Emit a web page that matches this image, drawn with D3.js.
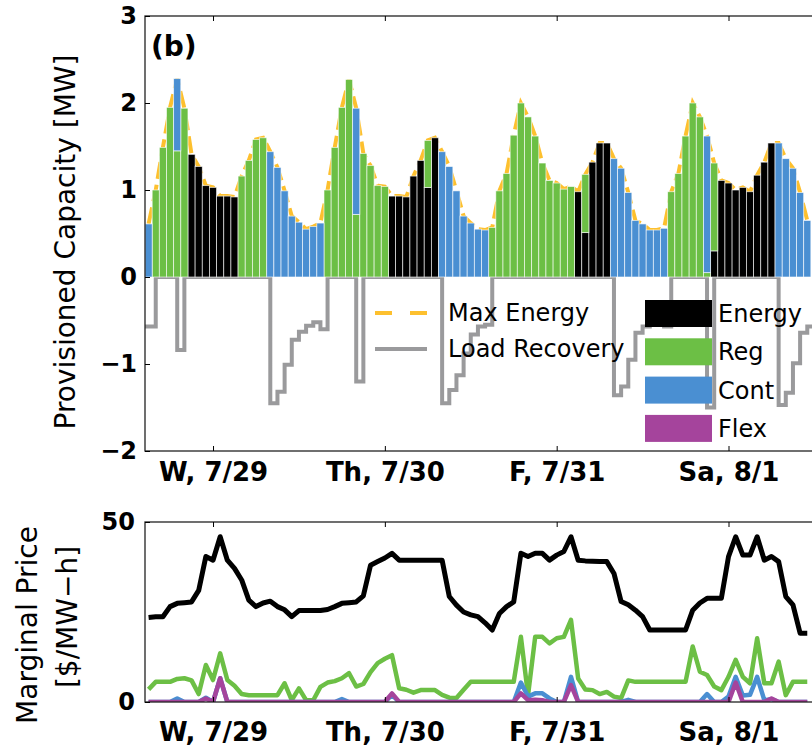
<!DOCTYPE html>
<html>
<head>
<meta charset="utf-8">
<script src="https://cdn.jsdelivr.net/npm/d3@7"></script>
<style>
  body { margin: 0; background: #fff; }
  text { font-family: "DejaVu Sans", sans-serif; fill: #000; }
</style>
</head>
<body>
<div id="chart"></div>
<script>
// hourly provisioned capacity [MW], hour 0 = first bar
const energy = [
  0,0,0,0,0,0,1.41,1.27,1.05,1.03,0.93,0.93,
  0.92,0,0,0,0,0,0,0,0,0,0,0,
  0,0,0,0,0,0,0,0,0,0,0.93,0.93,
  0.92,1.16,1.34,1.03,1.60,0,0,0,0,0,0,0,
  0,0,0,0,0,0,0,0,0,0,0,0,
  0.98,0.51,1.32,1.54,1.54,0,0,0,0,0,0,0,
  0,0,0,0,0,0,0,0.30,1.11,1.08,1.00,1.03,
  0.98,1.17,1.32,1.54,0,0,0,0,0
];
const reg = [
  0,1.00,1.49,1.95,1.45,1.94,0,0,0,0,0,0,
  0,1.16,1.34,1.58,1.60,0,0,0,0,0,0,0,
  0,1.00,1.49,1.95,2.27,0.72,1.42,1.28,1.05,1.04,0,0,
  0,0,0,0.54,0,0,0,0,0,0,0,0,
  0.57,0.99,1.19,1.63,2.00,1.84,1.62,1.31,1.11,1.08,1.01,1.04,
  0,0.67,0,0,0,0,0,0,0,0,0,0,
  0,0.98,1.19,1.62,2.00,1.84,0.05,1.01,0,0,0,0,
  0,0,0,0,0,0,0,0,0
];
const cont = [
  0.61,0,0,0,0.83,0,0,0,0,0,0,0,
  0,0,0,0,0,1.44,1.26,0.99,0.70,0.63,0.55,0.58,
  0.62,0,0,0,0,1.22,0,0,0,0,0,0,
  0,0,0,0,0,1.44,1.27,0.99,0.70,0.62,0.55,0.54,
  0,0,0,0,0,0,0,0,0,0,0,0,
  0,0,0,0,0,1.36,1.25,0.97,0.65,0.61,0.54,0.54,
  0.56,0,0,0,0,0,1.57,0,0,0,0,0,
  0,0,0,0,1.54,1.36,1.25,0.97,0.65
];
const flex = [
  0,0,0,0,0,0,0,0,0,0,0,0,
  0,0,0,0,0,0,0,0,0,0,0,0,
  0,0,0,0,0,0,0,0,0,0,0,0,
  0,0,0,0,0,0,0,0,0,0,0,0,
  0,0,0,0,0,0,0,0,0,0,0,0,
  0,0,0,0,0,0,0,0,0,0,0,0,
  0,0,0,0,0,0,0,0,0,0,0,0,
  0,0,0,0,0,0,0,0,0
];
const maxEnergy = [
  0.61,1.00,1.49,1.95,2.28,1.94,1.41,1.27,1.05,1.03,0.93,0.93,
  0.92,1.16,1.34,1.58,1.60,1.44,1.26,0.99,0.70,0.63,0.55,0.58,
  0.62,1.00,1.49,1.95,2.27,1.94,1.42,1.28,1.05,1.04,0.93,0.93,
  0.92,1.16,1.34,1.57,1.60,1.44,1.27,0.99,0.70,0.62,0.55,0.54,
  0.57,0.99,1.19,1.63,2.00,1.84,1.62,1.31,1.11,1.08,1.01,1.04,
  0.98,1.18,1.32,1.54,1.54,1.36,1.25,0.97,0.65,0.61,0.54,0.54,
  0.56,0.98,1.19,1.62,2.00,1.84,1.62,1.31,1.11,1.08,1.00,1.03,
  0.98,1.17,1.32,1.54,1.54,1.36,1.25,0.97,0.65
];
// load recovery, starts one hour before the first bar (hour -1)
const loadRecStart = -1;
const loadRecovery = [
  -0.57,-0.57,0,0,0,-0.84,0,0,0,0,0,0,
  0,0,0,0,0,0,-1.45,-1.32,-1.01,-0.72,-0.63,-0.56,
  -0.52,-0.60,0,0,0,0,-1.20,0,0,0,0,0,
  0,0,0,0,0,0,-1.45,-1.30,-1.13,-0.88,-0.66,-0.57,
  -0.55,0,0,0,0,0,0,0,0,0,0,0,
  0,0,0,0,0,0,-1.36,-1.26,-0.95,-0.64,-0.57,-0.55,
  -0.55,-0.57,0,0,0,0,0,-1.50,0,0,0,0,
  0,0,0,0,0,-1.47,-1.33,-0.99,-0.64,-0.57,-0.55
];

// marginal prices [$/MW-h]
const energyPrice = [
  23.5,23.7,23.7,26.5,27.4,27.6,27.8,31.0,40.4,39.4,45.9,39.4,
  37.1,33.9,28.3,26.5,27.5,28.0,26.5,25.6,23.7,25.4,25.4,25.4,
  25.4,25.7,26.5,27.4,27.6,27.8,29.5,38.0,39.0,40.0,41.3,39.4,
  39.4,39.4,39.4,39.4,39.4,39.4,29.3,26.9,25.0,24.2,23.7,22.0,
  20.0,24.6,26.5,27.8,41.3,40.4,41.3,41.3,39.4,40.8,41.8,45.9,
  39.4,39.2,39.1,39.0,39.0,35.7,27.9,27.0,25.5,23.7,20.0,20.0,
  20.0,20.0,20.0,20.0,25.5,27.5,28.8,28.8,28.8,40.4,45.9,40.8,
  40.8,45.9,39.4,40.4,39.0,29.3,27.0,19.1,19.1
];
const regPrice = [
  3.5,5.6,5.6,5.6,6.4,6.6,6.0,2.2,10.3,6.1,13.5,6.1,
  4.5,2.2,1.9,1.9,1.9,1.9,1.9,5.2,0.5,3.8,0.5,0.5,
  4.2,5.4,5.8,6.6,8.0,4.3,5.0,8.3,10.8,12.0,13.0,3.8,
  3.4,2.6,3.3,3.3,3.3,2.0,1.2,1.1,3.4,5.6,5.6,5.6,
  5.6,5.6,5.6,5.6,18.1,1.9,18.1,18.1,16.3,17.7,18.1,22.8,
  6.5,3.5,3.3,2.2,2.8,1.5,1.1,6.0,5.6,5.6,5.6,5.6,
  5.6,5.6,5.6,5.6,15.4,8.4,7.5,4.3,3.3,7.0,11.7,7.0,
  5.2,17.7,5.2,5.2,11.2,1.9,5.6,5.6,5.6
];
const contPrice = [
  0,0,0,0,1.0,0,0,0,1.2,0,6.6,0,
  0,0,0,0,0,0,0,0,0,0,0,0,
  0,0,0,0.8,0,0,0,0,0,0,2.0,0,
  0,0,0,0,0,0,0,0,0,0,0,0,
  0,0,0,0,5.4,1.5,2.4,2.4,1.0,0,0,7.0,
  0,0,0,0,0,0,0,0.6,0,0,0,0,
  0,0,0,0,0,0,2.2,0,0,1.5,7.0,1.8,
  2.0,7.0,0.5,0.8,0,0,0,0,0
];
const flexPrice = [
  0,0,0,0,0,0,0,0,1.0,0,6.6,0,
  0,0,0,0,0,0,0,0,0,0,0,0,
  0,0,0,0,0,0,0,0,0,0,2.4,0,
  0,0,0,0,0,0,0,0,0,0,0,0,
  0,0,0,0,2.4,0.5,0.6,0.5,0,0,0,4.7,
  0,0,0,0,0,0,0,0,0,0,0,0,
  0,0,0,0,0,0,0,0,0,0,5.4,0,
  0,0,0,1.0,0,0,0,0,0
];

const dayTicks = [9, 33, 57, 81];
const dayLabels = ["W, 7/29", "Th, 7/30", "F, 7/31", "Sa, 8/1"];
const capTicks = [-2, -1, 0, 1, 2, 3];
const priceTicks = [0, 50];

const colors = {
  energy: "#000000",
  reg: "#6cbf45",
  cont: "#4a8fd2",
  flex: "#a5449c",
  maxE: "#fdc02e",
  load: "#9a9a9c"
};

const svg = d3.select("#chart").append("svg")
  .attr("width", 812)
  .attr("height", 751);

const left = 145, right = 813;
const top1 = 16, bot1 = 451;
const top2 = 522, bot2 = 702;

const x = d3.scaleLinear().domain([-0.5, 92.8]).range([left, right]);
const y1 = d3.scaleLinear().domain([-2, 3]).range([bot1, top1]);
const y2 = d3.scaleLinear().domain([0, 50]).range([bot2, top2]);
const intFmt = d3.format("d");

const defs = svg.append("defs");
defs.append("clipPath").attr("id", "clip1").append("rect")
  .attr("x", left).attr("y", top1).attr("width", right - left).attr("height", bot1 - top1);
defs.append("clipPath").attr("id", "clip2").append("rect")
  .attr("x", left).attr("y", top2 - 4).attr("width", right - left).attr("height", bot2 - top2 + 4);

// ---------- top panel ----------
const g1 = svg.append("g").attr("clip-path", "url(#clip1)");

const lrData = loadRecovery.map((v, i) => ({ h: i + loadRecStart, v: v }));
g1.append("path")
  .datum(lrData)
  .attr("fill", "none")
  .attr("stroke", colors.load)
  .attr("stroke-width", 4)
  .attr("d", d3.line().curve(d3.curveStepAfter).x(d => x(d.h)).y(d => y1(d.v)));

g1.append("path")
  .datum(maxEnergy)
  .attr("fill", "none")
  .attr("stroke", colors.maxE)
  .attr("stroke-width", 4)
  .attr("stroke-dasharray", "17,6")
  .attr("d", d3.line().x((d, i) => x(i)).y(d => y1(d)));

const keys = ["energy", "reg", "cont", "flex"];
const table = energy.map((e, i) => ({ hour: i, energy: e, reg: reg[i], cont: cont[i], flex: flex[i] }));
const series = d3.stack().keys(keys)(table);
const bw = x(1) - x(0);

g1.selectAll("g.layer")
  .data(series)
  .join("g")
  .attr("class", "layer")
  .attr("fill", d => colors[d.key])
  .selectAll("rect")
  .data(d => d.filter(p => p[1] - p[0] > 0))
  .join("rect")
  .attr("x", d => x(d.data.hour - 0.5))
  .attr("width", bw)
  .attr("y", d => y1(d[1]))
  .attr("height", d => y1(d[0]) - y1(d[1]))
  .attr("stroke", "rgba(255,255,255,0.75)")
  .attr("stroke-width", 0.8);

// frame + ticks
svg.append("rect")
  .attr("x", left).attr("y", top1).attr("width", right - left).attr("height", bot1 - top1)
  .attr("fill", "none").attr("stroke", "#222").attr("stroke-width", 1.3);

const ax1 = svg.append("g").attr("transform", `translate(${left},0)`)
  .call(d3.axisLeft(y1).tickValues(capTicks).tickFormat(intFmt).tickSize(-5).tickPadding(8));
ax1.select(".domain").remove();
ax1.selectAll("text").style("font-size", "24px").style("font-weight", "bold");

svg.append("g").attr("transform", `translate(0,${top1})`)
  .call(d3.axisTop(x).tickValues(dayTicks).tickSize(-5).tickFormat(""))
  .select(".domain").remove();

const bx1 = svg.append("g").attr("transform", `translate(0,${bot1})`)
  .call(d3.axisBottom(x).tickValues(dayTicks).tickSize(-5).tickPadding(12)
    .tickFormat((d, i) => dayLabels[i]));
bx1.select(".domain").remove();
bx1.selectAll("text").style("font-size", "26px").style("font-weight", "bold");

svg.append("text")
  .attr("transform", "translate(75,242) rotate(-90)")
  .attr("text-anchor", "middle")
  .style("font-size", "28px")
  .text("Provisioned Capacity [MW]");

svg.append("text")
  .attr("x", 151).attr("y", 56)
  .style("font-size", "28px").style("font-weight", "bold")
  .text("(b)");

// legends
const legL = svg.append("g");
legL.append("line").attr("x1", 375).attr("x2", 427).attr("y1", 313).attr("y2", 313)
  .attr("stroke", colors.maxE).attr("stroke-width", 4).attr("stroke-dasharray", "17,18");
legL.append("line").attr("x1", 375).attr("x2", 427).attr("y1", 349).attr("y2", 349)
  .attr("stroke", colors.load).attr("stroke-width", 4);
legL.append("text").attr("x", 448).attr("y", 313).attr("dy", "0.35em")
  .style("font-size", "24px").text("Max Energy");
legL.append("text").attr("x", 448).attr("y", 349).attr("dy", "0.35em")
  .style("font-size", "24px").text("Load Recovery");

const legNames = ["Energy", "Reg", "Cont", "Flex"];
const legR = svg.append("g").selectAll("g").data(keys).join("g")
  .attr("transform", (d, i) => `translate(645,${300 + i * 38.3})`);
legR.append("rect").attr("width", 67).attr("height", 27).attr("fill", d => colors[d]);
legR.append("text").attr("x", 73).attr("y", 13.5).attr("dy", "0.35em")
  .style("font-size", "24px").text((d, i) => legNames[i]);

// ---------- bottom panel ----------
const g2 = svg.append("g").attr("clip-path", "url(#clip2)");
const priceSeries = [
  { vals: energyPrice, color: colors.energy, w: 5 },
  { vals: regPrice, color: colors.reg, w: 4.5 },
  { vals: contPrice, color: colors.cont, w: 4.5 },
  { vals: flexPrice, color: colors.flex, w: 4.5 }
];
g2.selectAll("path")
  .data(priceSeries)
  .join("path")
  .attr("fill", "none")
  .attr("stroke", d => d.color)
  .attr("stroke-width", d => d.w)
  .attr("stroke-linejoin", "round")
  .attr("d", d => d3.line().x((v, i) => x(i)).y(v => y2(v))(d.vals));

svg.append("rect")
  .attr("x", left).attr("y", top2).attr("width", right - left).attr("height", bot2 - top2)
  .attr("fill", "none").attr("stroke", "#222").attr("stroke-width", 1.3);

const ax2 = svg.append("g").attr("transform", `translate(${left},0)`)
  .call(d3.axisLeft(y2).tickValues(priceTicks).tickFormat(intFmt).tickSize(-5).tickPadding(10));
ax2.select(".domain").remove();
ax2.selectAll("text").style("font-size", "24px").style("font-weight", "bold");

svg.append("g").attr("transform", `translate(0,${top2})`)
  .call(d3.axisTop(x).tickValues(dayTicks).tickSize(-5).tickFormat(""))
  .select(".domain").remove();

const bx2 = svg.append("g").attr("transform", `translate(0,${bot2})`)
  .call(d3.axisBottom(x).tickValues(dayTicks).tickSize(-5).tickPadding(21)
    .tickFormat((d, i) => dayLabels[i]));
bx2.select(".domain").remove();
bx2.selectAll("text").style("font-size", "26px").style("font-weight", "bold");

svg.append("text")
  .attr("transform", "translate(37,625) rotate(-90)")
  .attr("text-anchor", "middle")
  .style("font-size", "28px")
  .text("Marginal Price");
svg.append("text")
  .attr("transform", "translate(77,617) rotate(-90)")
  .attr("text-anchor", "middle")
  .style("font-size", "28px")
  .text("[$/MW\u2212h]");
</script>
</body>
</html>
